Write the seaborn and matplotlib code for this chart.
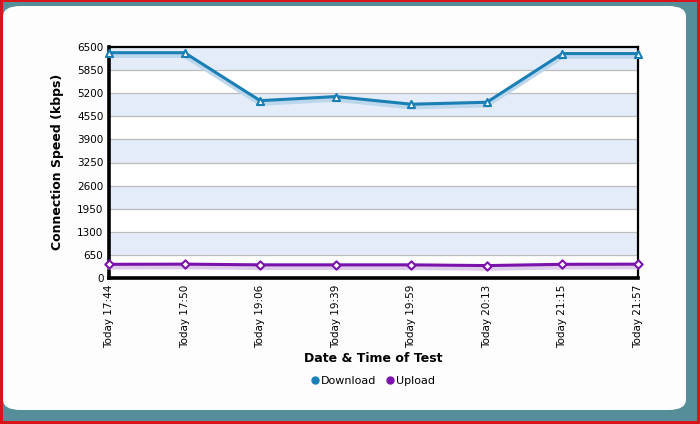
import matplotlib
matplotlib.use("Agg")
import matplotlib.pyplot as plt
import matplotlib.patheffects as pe
from matplotlib.patches import FancyBboxPatch, Rectangle
from matplotlib.lines import Line2D
import seaborn as sns
import numpy as np
import pandas as pd

# data
test_times = ["Today 17:44", "Today 17:50", "Today 19:06", "Today 19:39",
              "Today 19:59", "Today 20:13", "Today 21:15", "Today 21:57"]
download_kbps = [6340, 6340, 4990, 5105, 4890, 4945, 6315, 6315]
upload_kbps = [385, 390, 370, 370, 370, 350, 385, 390]
y_ticks = [0, 650, 1300, 1950, 2600, 3250, 3900, 4550, 5200, 5850, 6500]

df = pd.DataFrame({
    "pos": list(range(len(test_times))) * 2,
    "speed": download_kbps + upload_kbps,
    "series": ["Download"] * len(test_times) + ["Upload"] * len(test_times),
})

sns.set_style("white")
plt.rcParams["font.family"] = ["DejaVu Sans"]
plt.rcParams["text.color"] = "black"
plt.rcParams["xtick.color"] = "black"
plt.rcParams["ytick.color"] = "black"

fig = plt.figure(figsize=(7, 4.24), dpi=100)
fig.patch.set_facecolor("#d9141b")

# teal frame and white rounded panel
fig.patches.append(Rectangle((3 / 700, 3 / 424), 694 / 700, 419 / 424,
                             transform=fig.transFigure, facecolor="#558e99",
                             edgecolor="none", zorder=-2))
fig.patches.append(FancyBboxPatch((3 / 700, 14 / 424), 683 / 700, 404 / 424,
                                  boxstyle="round,pad=0,rounding_size=0.025",
                                  transform=fig.transFigure, facecolor="#fdfdfd",
                                  edgecolor="none", zorder=-1))

ax = fig.add_axes([109 / 700, (424 - 278) / 424, 529 / 700, 231 / 424])
ax.set_zorder(2)
ax.set_facecolor("white")

# alternating bands
for i in range(len(y_ticks) - 1):
    if i % 2 == 1:
        ax.axhspan(y_ticks[i], y_ticks[i + 1], color="#e3ecf8", zorder=0, lw=0)
for t in y_ticks[1:-1]:
    ax.axhline(t, color="#bcbcbc", lw=0.9, zorder=1)

palette = {"Download": "#1a7fb5", "Upload": "#7a12ab"}
shadow = {"Download": "#bcd6ec", "Upload": "#dccbe9"}
markers = {"Download": "^", "Upload": "D"}

for name, grp in df.groupby("series"):
    # line with soft drop shadow
    sns.lineplot(data=grp, x="pos", y="speed", ax=ax, color=palette[name],
                 lw=2.2, clip_on=False, zorder=4, legend=False,
                 path_effects=[pe.SimpleLineShadow(offset=(0, -2), shadow_color=shadow[name],
                                                   alpha=1, linewidth=3.5), pe.Normal()])
    # open markers on top
    sns.scatterplot(data=grp, x="pos", y="speed", ax=ax, marker=markers[name],
                    s=26 if name == "Download" else 18, facecolor="white",
                    edgecolor=palette[name], linewidth=1.5, clip_on=False,
                    zorder=5, legend=False)

ax.set_xlim(0, len(test_times) - 1)
ax.set_ylim(0, 6500)
ax.set_yticks(y_ticks)
ax.set_yticklabels([str(t) for t in y_ticks], fontsize=7.5)
ax.set_xticks(range(len(test_times)))
ax.set_xticklabels(test_times, rotation=90, fontsize=7.5)
ax.tick_params(axis="y", length=0, pad=4)
ax.tick_params(axis="x", length=0, pad=5)

for side in ["left", "bottom"]:
    ax.spines[side].set_linewidth(2.6)
    ax.spines[side].set_color("black")
for side in ["top", "right"]:
    ax.spines[side].set_visible(True)
    ax.spines[side].set_linewidth(1.6)
    ax.spines[side].set_color("black")

ax.set_xlabel("")
ax.set_ylabel("")
fig.text(58 / 700, 1 - 162 / 424, "Connection Speed (kbps)", rotation=90,
         fontsize=9, fontweight="bold", ha="center", va="center")
fig.text(373 / 700, 1 - 359 / 424, "Date & Time of Test",
         fontsize=9, fontweight="bold", ha="center", va="center")

handles = [Line2D([], [], ls="none", marker="o", markersize=5, color=palette[k],
                  label=k) for k in ["Download", "Upload"]]
fig.legend(handles=handles, loc="center", bbox_to_anchor=(373 / 700, 1 - 381 / 424),
           ncol=2, frameon=False, fontsize=8, handletextpad=0.2, columnspacing=0.9,
           handlelength=0.7)

fig.savefig("out.png", dpi=100, facecolor=fig.get_facecolor())
